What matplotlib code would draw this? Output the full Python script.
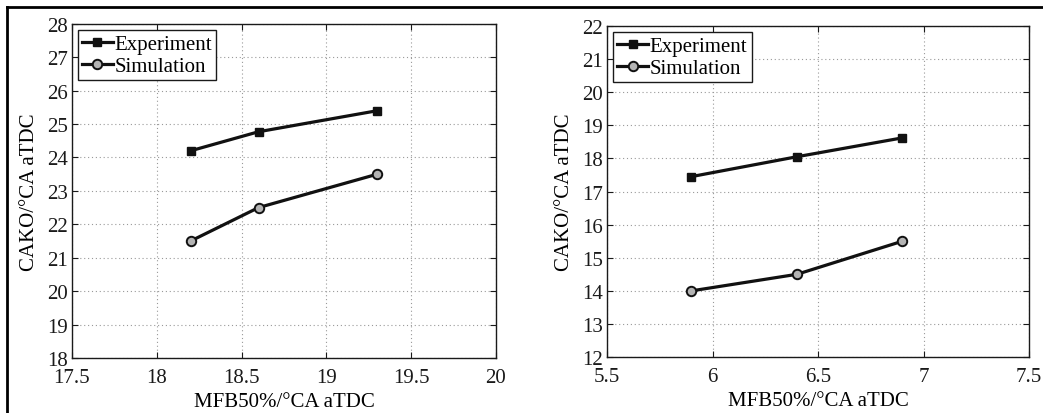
import matplotlib
matplotlib.use("Agg")
import matplotlib.pyplot as plt
from matplotlib.lines import Line2D

plt.rcParams['font.family'] = ['Liberation Serif', 'DejaVu Serif']
plt.rcParams['font.size'] = 15

# left panel
x_left = [18.2, 18.6, 19.3]
exp_left = [24.2, 24.77, 25.4]
sim_left = [21.5, 22.5, 23.5]
xticks_left = [17.5, 18, 18.5, 19, 19.5, 20]
yticks_left = [18, 19, 20, 21, 22, 23, 24, 25, 26, 27, 28]

# right panel
x_right = [5.9, 6.4, 6.9]
exp_right = [17.45, 18.05, 18.62]
sim_right = [14.0, 14.5, 15.5]
xticks_right = [5.5, 6, 6.5, 7, 7.5]
yticks_right = [12, 13, 14, 15, 16, 17, 18, 19, 20, 21, 22]

fig = plt.figure(figsize=(10.43, 4.14), dpi=100)
ax1 = fig.add_axes([0.069, 0.133, 0.4065, 0.807])
ax2 = fig.add_axes([0.582, 0.135, 0.4046, 0.80])


def draw(ax, x, exp, sim, xt, yt):
    ax.plot(x, exp, color='#111111', lw=2.3, marker='s', ms=6.2,
            mfc='#111111', mec='#111111', label='Experiment')
    ax.plot(x, sim, color='#111111', lw=2.3, marker='o', ms=6.8,
            mfc='#b4b4b4', mec='#111111', mew=1.4, label='Simulation')
    ax.set_xlim(xt[0], xt[-1])
    ax.set_ylim(yt[0], yt[-1])
    ax.set_xticks(xt)
    ax.set_yticks(yt)
    ax.set_xticklabels([('%g' % v) for v in xt])
    ax.grid(True, linestyle=(0, (1, 2.5)), color='#999999', lw=0.8)
    ax.tick_params(direction='in', top=True, right=True, length=4,
                   labelsize=15, colors='#1a1a1a')
    ax.tick_params(axis='x', pad=7)
    ax.tick_params(axis='y', pad=3)
    for s in ax.spines.values():
        s.set_linewidth(1.0)
        s.set_color('#1a1a1a')
    ax.set_xlabel('MFB50%/°CA aTDC', fontsize=15, labelpad=4)
    ax.set_ylabel('CAKO/°CA aTDC', fontsize=15, labelpad=6)
    leg = ax.legend(loc='upper left', fontsize=15, handlelength=1.45,
                    handletextpad=0.1, borderpad=0.2, labelspacing=0.12,
                    borderaxespad=0.3, fancybox=False, framealpha=1)
    leg.get_frame().set_edgecolor('#1a1a1a')
    leg.get_frame().set_linewidth(1.0)


draw(ax1, x_left, exp_left, sim_left, xticks_left, yticks_left)
draw(ax2, x_right, exp_right, sim_right, xticks_right, yticks_right)

# outer frame lines (top and left)
fig.add_artist(Line2D([0.0067, 1.0], [0.981, 0.981], transform=fig.transFigure,
                      color='black', lw=2))
fig.add_artist(Line2D([0.0067, 0.0067], [0.0, 0.981], transform=fig.transFigure,
                      color='black', lw=2))

fig.savefig('out.png', dpi=100)
